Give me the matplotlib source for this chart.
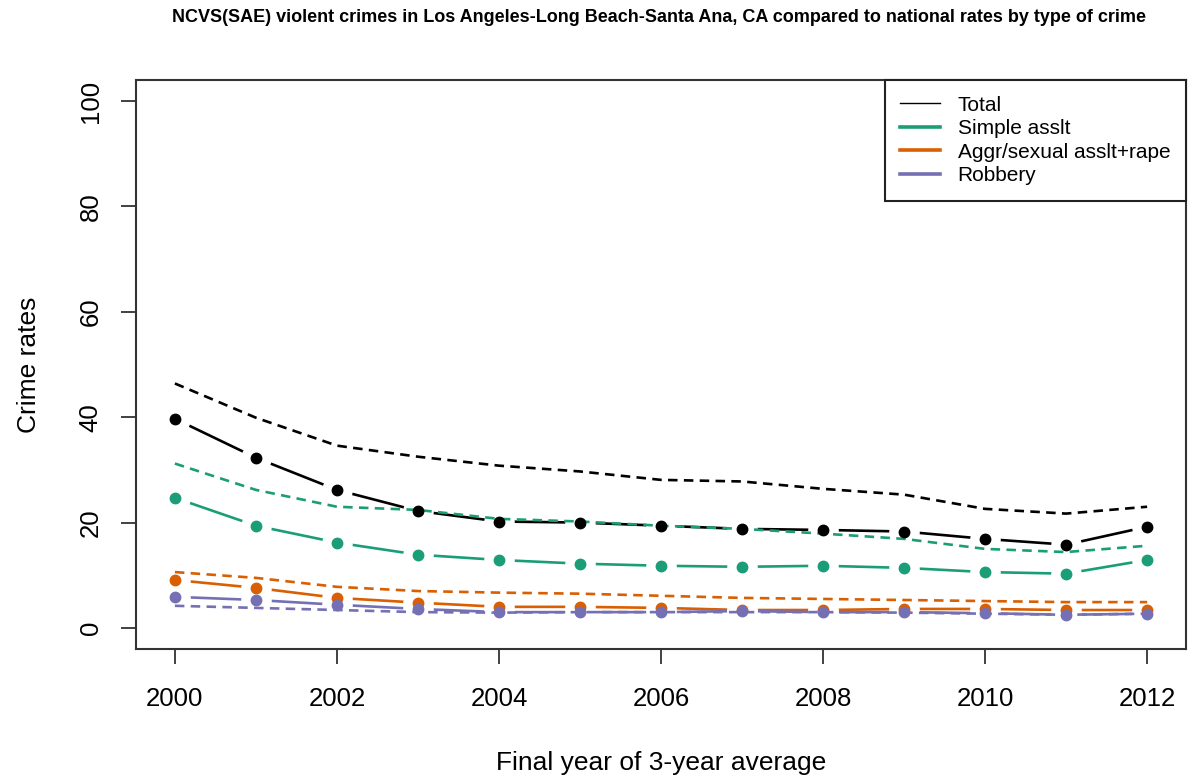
import matplotlib
matplotlib.use("Agg")
import matplotlib.pyplot as plt
from matplotlib.lines import Line2D

years = [2000, 2001, 2002, 2003, 2004, 2005, 2006, 2007, 2008, 2009, 2010, 2011, 2012]

total_local = [39.7, 32.3, 26.2, 22.2, 20.2, 20.0, 19.4, 18.8, 18.6, 18.3, 16.9, 15.8, 19.2]
total_nat = [46.4, 39.9, 34.6, 32.5, 30.8, 29.7, 28.1, 27.8, 26.4, 25.3, 22.6, 21.7, 23.0]
simple_local = [24.7, 19.4, 16.2, 13.9, 12.9, 12.2, 11.8, 11.6, 11.8, 11.4, 10.6, 10.3, 12.9]
simple_nat = [31.2, 26.2, 23.0, 22.4, 20.7, 20.2, 19.4, 18.8, 17.9, 16.9, 15.0, 14.4, 15.6]
aggr_local = [9.1, 7.6, 5.7, 4.8, 4.0, 4.0, 3.8, 3.4, 3.4, 3.6, 3.6, 3.4, 3.4]
aggr_nat = [10.6, 9.5, 7.8, 7.0, 6.7, 6.5, 6.1, 5.7, 5.5, 5.3, 5.1, 4.9, 4.9]
robb_local = [5.9, 5.3, 4.4, 3.6, 3.0, 3.0, 3.0, 3.2, 3.0, 3.0, 2.8, 2.5, 2.7]
robb_nat = [4.2, 3.8, 3.4, 3.0, 2.9, 3.0, 3.0, 3.0, 3.0, 2.9, 2.7, 2.5, 2.7]

labels = ["Total", "Simple asslt", "Aggr/sexual asslt+rape", "Robbery"]
colors = ["#000000", "#1B9E77", "#D95F02", "#7570B3"]
local_series = [total_local, simple_local, aggr_local, robb_local]
nat_series = [total_nat, simple_nat, aggr_nat, robb_nat]

xticks = [2000, 2002, 2004, 2006, 2008, 2010, 2012]
yticks = [0, 20, 40, 60, 80, 100]

plt.rcParams['font.family'] = ['Liberation Sans', 'DejaVu Sans']

fig = plt.figure(figsize=(11.9, 7.82), dpi=100)
ax = fig.add_axes([136/1190, 1 - 649/782, (1186 - 136)/1190, (649 - 80)/782])

# local lines (type="b" style: line with gaps around points)
for vals, c in zip(local_series, colors):
    ax.plot(years, vals, color=c, lw=1.9, solid_capstyle='butt', zorder=1)
for vals in local_series:
    ax.plot(years, vals, linestyle='none', marker='o', ms=22, mfc='white', mec='none', zorder=2)
# national dashed lines
for vals, c in zip(nat_series, colors):
    ax.plot(years, vals, color=c, lw=1.9, linestyle=(0, (3.6, 2.4)), dash_capstyle='butt', zorder=3)
# points
for vals, c in zip(local_series, colors):
    ax.plot(years, vals, linestyle='none', marker='o', ms=7.5, mfc=c, mec=c, zorder=4)

ax.set_xlim(1999.52, 2012.48)
ax.set_ylim(-4, 104)
ax.set_xticks(xticks)
ax.set_yticks(yticks)
ax.set_xticklabels([str(t) for t in xticks], fontsize=18.5)
ax.set_yticklabels([str(t) for t in yticks], fontsize=18.5, rotation=90, va='center')
ax.tick_params(axis='both', length=11, width=1.3, color='#333333')
ax.tick_params(axis='x', pad=16)
ax.tick_params(axis='y', pad=13)
for s in ax.spines.values():
    s.set_linewidth(1.5)
    s.set_color('#333333')

ax.set_xlabel("Final year of 3-year average", fontsize=19, va='center')
ax.xaxis.set_label_coords(0.5, (649 - 763) / 569)
ax.set_ylabel("Crime rates", fontsize=19, va='center')
ax.yaxis.set_label_coords((29 - 136) / 1050, 0.5)

fig.text(659/1190, 1 - 18/782, "NCVS(SAE) violent crimes in Los Angeles-Long Beach-Santa Ana, CA compared to national rates by type of crime",
         ha='center', va='center', fontsize=13, fontweight='bold', family=['Liberation Sans Narrow', 'Liberation Sans'])

handles = [Line2D([], [], color=colors[0], lw=1.0)] + [Line2D([], [], color=c, lw=2.6) for c in colors[1:]]
leg = ax.legend(handles, labels, loc='upper right', fontsize=15, frameon=True, fancybox=False,
                borderaxespad=0, handlelength=1.9, handletextpad=0.85, labelspacing=0.22,
                borderpad=0.75)
leg.get_frame().set_edgecolor('#222222')
leg.get_frame().set_linewidth(1.5)
leg.get_frame().set_alpha(1)

fig.savefig("out.png", dpi=100)
